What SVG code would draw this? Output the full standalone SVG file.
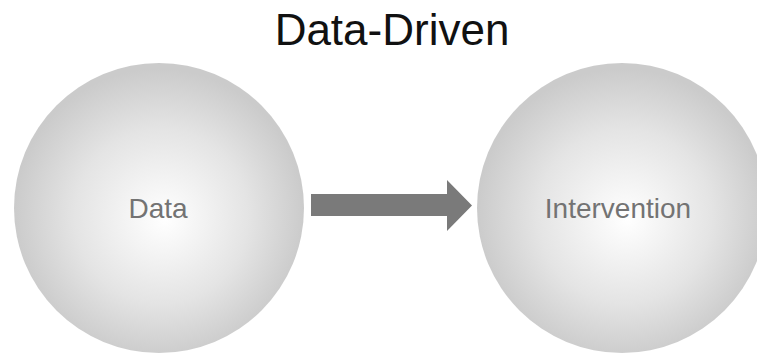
<svg xmlns="http://www.w3.org/2000/svg" width="757" height="355" viewBox="0 0 757 355">
  <defs>
    <radialGradient id="ballGrad" cx="0.5" cy="0.52" r="0.5" fx="0.52" fy="0.54">
      <stop offset="0" stop-color="#ffffff"/>
      <stop offset="0.6" stop-color="#e4e4e4"/>
      <stop offset="1" stop-color="#cbcbcb"/>
    </radialGradient>
  </defs>
  <style>
    .ball { fill: url(#ballGrad); }
    .label { font-family: "Liberation Sans", Arial, sans-serif; font-size: 28px; fill: #737373; text-anchor: middle; }
    .title { font-family: "Liberation Sans", Arial, sans-serif; font-size: 44px; fill: #111111; text-anchor: middle; }
    .arrow { fill: #7a7a7a; }
  </style>
  <rect width="757" height="355" fill="#ffffff"/>
  <text class="title" x="392" y="45">Data-Driven</text>
  <g id="node-data">
    <circle class="ball" cx="159" cy="208" r="145"/>
    <text class="label" x="158" y="218">Data</text>
  </g>
  <g id="node-intervention">
    <circle class="ball" cx="622" cy="208" r="145"/>
    <text class="label" x="618" y="218">Intervention</text>
  </g>
  <g id="connectors">
    <polygon class="arrow" points="311,194 447,194 447,180 472,205.5 447,231 447,216 311,216"/>
  </g>
</svg>
